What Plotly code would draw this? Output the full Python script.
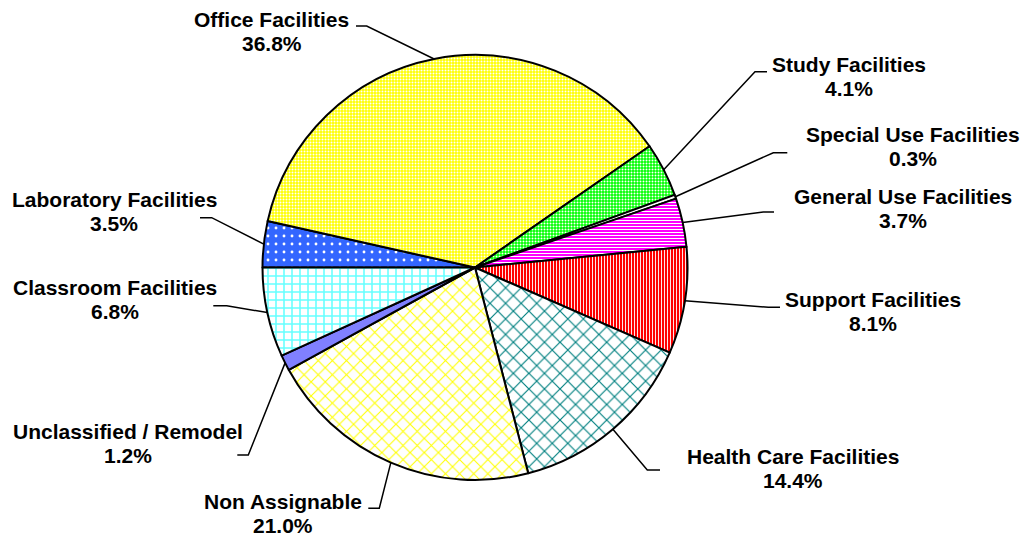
import math
import plotly.graph_objects as go

# ---------------- data ----------------
categories = ["Laboratory Facilities", "Office Facilities", "Study Facilities",
              "Special Use Facilities", "General Use Facilities", "Support Facilities",
              "Health Care Facilities", "Non Assignable", "Unclassified / Remodel",
              "Classroom Facilities"]
values = [3.5, 36.8, 4.1, 0.3, 3.7, 8.1, 14.4, 21.0, 1.2, 6.8]

# ---------------- styles ----------------
base_colors = ["#3366FF", "#FFFF00", "#00FF00", "#FFFFFF", "#FF00FF",
               "#FF0000", "#FFFFFF", "#FFFFFF", "#8080FF", "#FFFFFF"]
pat_shapes = [".", ".", ".", "", "-", "|", "x", "x", "", "+"]
pat_fg = ["#FFFFFF", "#FFFFFF", "#FFFFFF", "#FFFFFF", "#FFFFFF", "#FFFFFF",
          "#008080", "#FFFF00", "#8080FF", "#66FFFF"]
pat_bg = ["#3366FF", "#FFFF00", "#00FF00", "#FFFFFF", "#FF00FF", "#FF0000",
          "#FFFFFF", "#FFFFFF", "#8080FF", "#FFFFFF"]
pat_size = [8, 3, 3, 4, 3, 3, 11, 10, 4, 8]
pat_solid = [0.1, 0.35, 0.35, 0.3, 0.35, 0.3, 0.2, 0.2, 0.3, 0.35]

W, H = 1024, 538
CX, CY, R = 475.0, 267.5, 212.5
ROTATION = 270  # first slice starts at 9 o'clock, clockwise

# label layout (pixels): text centre x, first-line baseline y
label_pos = [(114, 206.7), (271.5, 26.7), (849, 71.7), (912.5, 141.7),
             (902.5, 203.3), (873, 306.7), (792.5, 463.3), (282.5, 508.3),
             (127.5, 438.3), (115, 295)]
# leader elbow (x, y) and end of the short horizontal stub (x)
elbows = [(211.7, 217.7, 200), (366.7, 26, 356), (755, 71.7, 767),
          (773.3, 152.7, 787.3), (763.3, 212, 774), (768.3, 307.3, 780),
          (647.3, 470, 660), (379.3, 508.3, 368.3), (248.3, 455, 237.3),
          (226.7, 305.7, 213.3)]
LINE_GAP = 24
FONT_SIZE = 21


def px(x):
    return x / W


def py(y):
    return 1 - y / H


fig = go.Figure()
fig.add_trace(go.Pie(
    labels=categories, values=values, sort=False, direction="clockwise",
    rotation=ROTATION, textinfo="none", textposition="none", hoverinfo="label+percent",
    marker=dict(colors=base_colors, line=dict(color="black", width=2),
                pattern=dict(shape=pat_shapes, fgcolor=pat_fg, bgcolor=pat_bg,
                             size=pat_size, solidity=pat_solid, fillmode="replace")),
    domain=dict(x=[px(CX - R), px(CX + R)], y=[py(CY + R), py(CY - R)]),
    showlegend=False,
))

total = sum(values)
cum = 0.0
shapes = []
annotations = []
font = dict(family="Liberation Sans, Arial, sans-serif", size=FONT_SIZE, color="black", weight="bold")
for name, v, (lx, lb), (ex, ey, hx) in zip(categories, values, label_pos, elbows):
    mid = math.radians(ROTATION + 360.0 * (cum + v / 2) / total)
    cum += v
    sx = CX + R * math.sin(mid)
    sy = CY - R * math.cos(mid)
    shapes.append(dict(type="path", xref="paper", yref="paper",
                       path=f"M {px(sx)},{py(sy)} L {px(ex)},{py(ey)} L {px(hx)},{py(ey)}",
                       line=dict(color="black", width=1.5)))
    for txt, base in ((name, lb), (f"{v:.1f}%", lb + LINE_GAP)):
        annotations.append(dict(text=txt, xref="paper", yref="paper", x=px(lx),
                                y=py(base - 0.3465 * FONT_SIZE), xanchor="center",
                                yanchor="middle", showarrow=False, font=font))

fig.update_layout(width=W, height=H, margin=dict(l=0, r=0, t=0, b=0),
                  paper_bgcolor="white", plot_bgcolor="white",
                  shapes=shapes, annotations=annotations)

fig.write_html("out.html", config={"displayModeBar": False},
               post_script="document.body.style.margin='0';document.body.style.overflow='hidden';")
